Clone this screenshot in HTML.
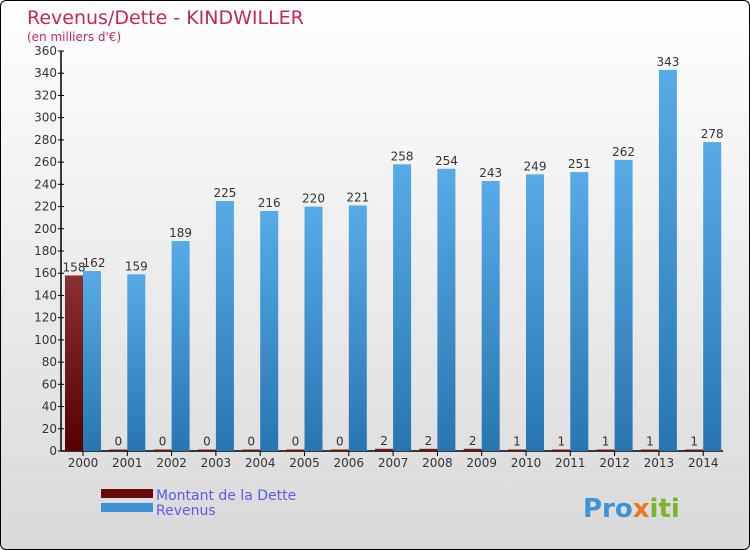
<!DOCTYPE html>
<html><head><meta charset="utf-8"><style>
body{margin:0}
#wrap{position:relative;width:748px;height:548px;border:1px solid #000;border-radius:6px;overflow:hidden;background:linear-gradient(#ffffff,#d9d9d9);font-family:"DejaVu Sans","Liberation Sans",sans-serif}
</style></head><body>
<div id="wrap">
<svg id="c" width="748" height="548">
<defs>
<linearGradient id="gr" x1="0" y1="0" x2="0" y2="1"><stop offset="0" stop-color="#57abe6"/><stop offset="1" stop-color="#2776b2"/></linearGradient>
<linearGradient id="gd" x1="0" y1="0" x2="0" y2="1"><stop offset="0" stop-color="#8b3035"/><stop offset="1" stop-color="#550000"/></linearGradient>
</defs>
<text x="26" y="23" font-size="19" fill="#c0285a">Revenus/Dette - KINDWILLER</text>
<text x="26" y="40" font-size="12" fill="#c0285a">(en milliers d'€)</text>
<g id="g"></g>
<rect x="100" y="488" width="52" height="9" fill="#6a0a0a"/>
<rect x="100" y="502" width="52" height="9" fill="#3d93d3"/>
<text x="155" y="499" font-size="14" fill="#5b5bf0">Montant de la Dette</text>
<text x="155" y="514" font-size="14" fill="#5b5bf0">Revenus</text>
<text x="582" y="516" font-size="26" font-weight="bold" fill="#3d93d3">Pro<tspan fill="#e8791e">x</tspan><tspan fill="#7bb52a">iti</tspan></text>
</svg>
</div>
<script>
const years=["2000","2001","2002","2003","2004","2005","2006","2007","2008","2009","2010","2011","2012","2013","2014"];
const dette=[158,0,0,0,0,0,0,2,2,2,1,1,1,1,1];
const revenus=[162,159,189,225,216,220,221,258,254,243,249,251,262,343,278];
const yTicks=[0,20,40,60,80,100,120,140,160,180,200,220,240,260,280,300,320,340,360];
const NS="http://www.w3.org/2000/svg",g=document.getElementById('g');
const y=v=>450-v*400/360, xc=i=>82+i*44.3;
function el(t,a,txt){const e=document.createElementNS(NS,t);for(const k in a)e.setAttribute(k,a[k]);if(txt!==undefined)e.textContent=txt;g.appendChild(e);return e;}
let ax=el('line',{x1:60,y1:50,x2:60,y2:450,stroke:'#000','stroke-width':1.5});

let bx=el('line',{x1:60,y1:450,x2:722,y2:450,stroke:'#000','stroke-width':1.5});

yTicks.forEach(t=>{let l=el('line',{x1:57,y1:y(t),x2:63,y2:y(t),stroke:'#000'});

let tx=el('text',{x:56,y:y(t)+4,'font-size':12,fill:'#333','text-anchor':'end'},t);
});
years.forEach((yr,i)=>{const c=xc(i);
let l=el('line',{x1:c,y1:450,x2:c,y2:455,stroke:'#000'});
let t=el('text',{x:c,y:466,'font-size':12,fill:'#333','text-anchor':'middle'},yr);
const hd=Math.max(dette[i]*400/360,1.5);
let b1=el('rect',{x:c-18,y:450-hd,width:18,height:hd,fill:'url(#gd)'});
let v1=el('text',{x:c-9,y:450-hd-4,'font-size':12,fill:'#333','text-anchor':'middle'},dette[i]);
const hr=revenus[i]*400/360;
let b2=el('rect',{x:c,y:450-hr,width:18,height:hr,fill:'url(#gr)'});
let v2=el('text',{x:c+9+(i===0?2:0),y:450-hr-4,'font-size':12,fill:'#333','text-anchor':'middle'},revenus[i]);
});
</script>
</body></html>
